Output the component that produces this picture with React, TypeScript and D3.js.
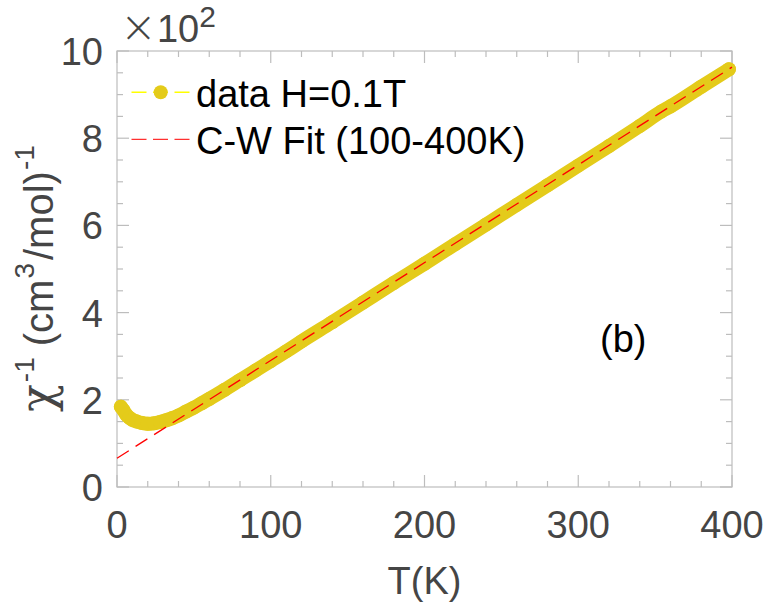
import * as d3 from "d3";

// temperatures (K) and inverse susceptibility (x 10^2 cm^3/mol)^-1
const tempK = [
  2.5, 4, 6, 8, 10, 13, 16, 20, 24, 28, 32, 36, 40, 45, 50, 55, 60, 70, 80, 90,
  100, 110, 120, 140, 160, 180, 200, 220, 240, 260, 280, 300, 320, 340, 354,
  360, 380, 398,
];
const invChi = [
  1.84, 1.77, 1.66, 1.59, 1.54, 1.5, 1.47, 1.45, 1.46, 1.49, 1.53, 1.58, 1.64,
  1.73, 1.82, 1.92, 2.02, 2.23, 2.45, 2.67, 2.89, 3.11, 3.34, 3.78, 4.23, 4.68,
  5.12, 5.57, 6.02, 6.47, 6.92, 7.37, 7.82, 8.28, 8.61, 8.73, 9.18, 9.58,
];
// Curie-Weiss fit endpoints
const fitT = [0, 400];
const fitY = [0.66, 9.63];

const xTicks = [0, 100, 200, 300, 400];
const yTicks = [0, 2, 4, 6, 8, 10];
const legendLabels = ["data H=0.1T", "C-W Fit (100-400K)"];

const width = 764;
const height = 604;
const marginLeft = 117;
const marginRight = 32;
const marginTop = 51;
const marginBottom = 117;

const axisColor = "#bdbdbd";
const labelColor = "#454545";
const markerColor = "#e4cb1a";
const font = "'Liberation Sans', Arial, Helvetica, sans-serif";

export default function App() {
  const x = d3.scaleLinear().domain([0, 400]).range([marginLeft, width - marginRight]);
  const y = d3.scaleLinear().domain([0, 10]).range([height - marginBottom, marginTop]);

  const pts = tempK.map((t, i) => [t, invChi[i]] as [number, number]);
  const line = d3
    .line<[number, number]>()
    .x((d) => x(d[0]))
    .y((d) => y(d[1]))
    .curve(d3.curveMonotoneX);
  const fitLine = d3
    .line<number>()
    .x((d) => x(d))
    .y((_, i) => y(fitY[i]));

  const xMinor = d3.range(0, 401, 20);
  const yMinor = d3.range(0, 10.01, 0.5);
  const [x0, x1] = x.range();
  const [y0, y1] = y.range();

  return (
    <svg
      width={width}
      height={height}
      style={{ position: "absolute", left: 0, top: 0, background: "#fff" }}
      fontFamily={font}
    >
      {/* box */}
      <rect
        x={x0}
        y={y1}
        width={x1 - x0}
        height={y0 - y1}
        fill="none"
        stroke={axisColor}
        strokeWidth={1.2}
      />
      {/* ticks */}
      <g stroke={axisColor} strokeWidth={1.2}>
        {xMinor.map((t) => {
          const len = t % 100 === 0 ? 12 : 6;
          return (
            <g key={"x" + t}>
              <line x1={x(t)} x2={x(t)} y1={y0} y2={y0 - len} />
              <line x1={x(t)} x2={x(t)} y1={y1} y2={y1 + len} />
            </g>
          );
        })}
        {yMinor.map((t) => {
          const len = Math.abs(t % 2) < 1e-6 ? 12 : 6;
          return (
            <g key={"y" + t}>
              <line x1={x0} x2={x0 + len} y1={y(t)} y2={y(t)} />
              <line x1={x1} x2={x1 - len} y1={y(t)} y2={y(t)} />
            </g>
          );
        })}
      </g>
      {/* tick labels */}
      <g fill={labelColor} fontSize={38}>
        {xTicks.map((t) => (
          <text key={t} x={x(t)} y={y0 + 51} textAnchor="middle">
            {t}
          </text>
        ))}
        {yTicks.map((t) => (
          <text key={t} x={x0 - 14} y={y(t) + 14} textAnchor="end">
            {t}
          </text>
        ))}
        <text x={x0 + 3} y={42}>
          <tspan fontSize={44} fontFamily="'DejaVu Sans', sans-serif" fontWeight={200}>×</tspan>
          <tspan>10</tspan>
          <tspan fontSize={30} dy={-15}>
            2
          </tspan>
        </text>
      </g>
      {/* axis titles */}
      <text x={(x0 + x1) / 2} y={594} textAnchor="middle" fontSize={38} fill={labelColor}>
        T(K)
      </text>
      <text
        transform={`translate(53, 412) rotate(-90)`}
        fontSize={40}
        fill={labelColor}
      >
        <tspan fontSize={46} fontFamily="'DejaVu Serif', serif">χ</tspan>
        <tspan fontSize={28} dy={-19} dx={2}>-1</tspan>
        <tspan dy={19} dx={11}>(cm</tspan>
        <tspan fontSize={28} dy={-19} dx={1}>3</tspan>
        <tspan dy={19} dx={3}>/mol)</tspan>
        <tspan fontSize={28} dy={-19} dx={1}>-1</tspan>
      </text>

      {/* data */}
      <path
        d={line(pts) ?? ""}
        fill="none"
        stroke={markerColor}
        strokeWidth={14}
        strokeLinejoin="round"
        strokeLinecap="round"
      />
      {pts.map((d, i) => (
        <circle key={i} cx={x(d[0])} cy={y(d[1])} r={7} fill={markerColor} />
      ))}
      {/* fit */}
      <path
        d={fitLine(fitT) ?? ""}
        fill="none"
        stroke="#ff0000"
        strokeWidth={1.3}
        strokeDasharray="14 8"
      />

      {/* legend */}
      <g>
        <line x1={131.5} x2={190} y1={92.3} y2={92.3} stroke="#ffff00" strokeWidth={1.5} strokeDasharray="15 6.5" />
        <circle cx={160.7} cy={92.3} r={7} fill={markerColor} />
        <line x1={131.5} x2={190} y1={139.3} y2={139.3} stroke="#ff3030" strokeWidth={1.3} strokeDasharray="15 6.5" />
        <text x={196} y={106.5} fontSize={38} fill="#000">
          {legendLabels[0]}
        </text>
        <text x={196} y={154} fontSize={38} fill="#000">
          {legendLabels[1]}
        </text>
      </g>
      <text x={600} y={352} fontSize={38} fill="#000">
        (b)
      </text>
    </svg>
  );
}
